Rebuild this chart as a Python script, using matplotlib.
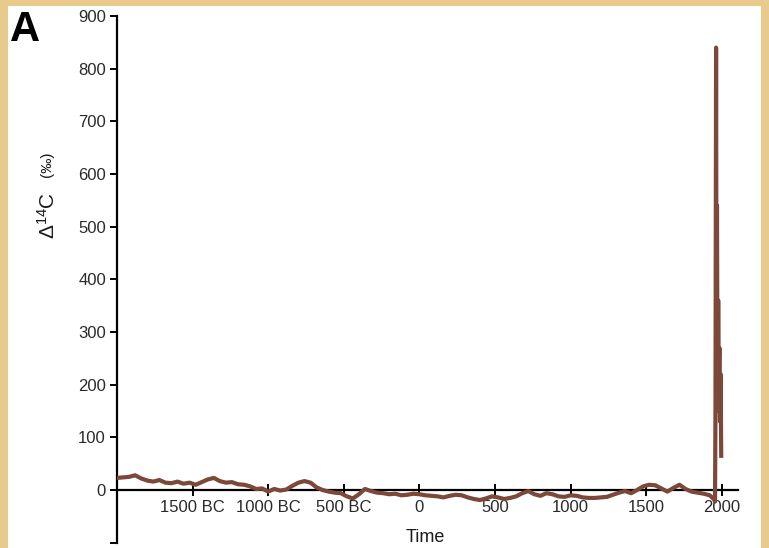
import numpy as np
import matplotlib
matplotlib.use("Agg")
import matplotlib.pyplot as plt
from matplotlib.patches import Rectangle

# pre-bomb record, one reading every 40 years from 2000 BC
pre_years = np.arange(-2000, 1921, 40)
pre_d14c = [
    23, 24, 25, 28, 22, 18, 16, 19, 14, 13,
    16, 12, 14, 10, 15, 20, 23, 17, 14, 15,
    11, 10, 7, 2, 3, -3, 2, -1, 1, 8,
    14, 17, 14, 5, 0, -3, -5, -6, -12, -16,
    -8, 2, -2, -5, -6, -8, -7, -10, -9, -7,
    -8, -10, -11, -12, -14, -11, -9, -10, -14, -17,
    -19, -16, -12, -14, -17, -15, -12, -6, -2, -8,
    -11, -6, -8, -12, -13, -10, -11, -14, -15, -15,
    -14, -13, -9, -5, -2, -6, 0, 7, 10, 9,
    3, -3, 4, 10, 2, -3, -5, -7, -10,
]
# bomb spike
bomb_years = [1950, 1955, 1958, 1962, 1965, 1968, 1972, 1976, 1980, 1984, 1988, 1992, 1996]
bomb_d14c = [-18, -22, 150, 840, 250, 540, 150, 360, 190, 270, 130, 220, 65]

years = np.concatenate([pre_years, bomb_years])
d14c = np.concatenate([pre_d14c, bomb_d14c])

xticks = [-1500, -1000, -500, 0, 500, 1000, 1500, 2000]
xtick_labels = ["1500 BC", "1000 BC", "500 BC", "0", "500", "1000", "1500", "2000"]
yticks = [-100, 0, 100, 200, 300, 400, 500, 600, 700, 800, 900]
ytick_labels = ["", "0", "100", "200", "300", "400", "500", "600", "700", "800", "900"]

plt.rcParams["font.family"] = ["Liberation Sans", "DejaVu Sans"]
plt.rcParams["mathtext.fontset"] = "custom"
plt.rcParams["mathtext.rm"] = "Liberation Sans"
plt.rcParams["mathtext.it"] = "Liberation Sans"

W, H = 769, 548
fig = plt.figure(figsize=(W / 100, H / 100), dpi=100, facecolor="#e8ca8d")
fig.patches.append(Rectangle((8 / W, 0), (W - 16) / W, (H - 6) / H,
                             transform=fig.transFigure, facecolor="white",
                             edgecolor="none", zorder=-5))

ax = fig.add_axes([117 / W, (H - 542.7) / H, 621 / W, 526.7 / H])
ax.set_facecolor("none")
ax.plot(years, d14c, color="#7b4839", linewidth=3.0, solid_joinstyle="round", zorder=3)

ax.set_xlim(-2000, 2107)
ax.set_ylim(-100, 900)
for side in ("top", "right"):
    ax.spines[side].set_visible(False)
ax.spines["bottom"].set_position(("data", 0))
ax.spines["bottom"].set_linewidth(1.6)
ax.spines["left"].set_linewidth(1.6)
ax.spines["bottom"].set_zorder(2)

ax.set_xticks(xticks)
ax.set_xticklabels(xtick_labels)
ax.set_yticks(yticks)
ax.set_yticklabels(ytick_labels)
ax.tick_params(axis="x", direction="inout", length=9, width=1.4, pad=3,
               labelsize=12, labelcolor="#2a2a2a")
ax.tick_params(axis="y", direction="out", length=5, width=1.4, pad=3,
               labelsize=12, labelcolor="#2a2a2a")

# axis titles
fig.text(425 / W, 1 - 537 / H, "Time", ha="center", va="center",
         fontsize=13, color="#1a1a1a")
fig.text(48 / W, 1 - 215 / H, r"$\Delta^{14}$C", rotation=90, ha="center",
         va="center", fontsize=15, color="#1a1a1a")
fig.text(47 / W, 1 - 164 / H, "(\u2030)", rotation=90, ha="center",
         va="center", fontsize=11, color="#1a1a1a")

fig.text(10 / W, 1 - 30 / H, "A", ha="left", va="center", fontsize=30,
         fontweight="bold", color="black")

fig.savefig("out.png", dpi=100, facecolor=fig.get_facecolor())
